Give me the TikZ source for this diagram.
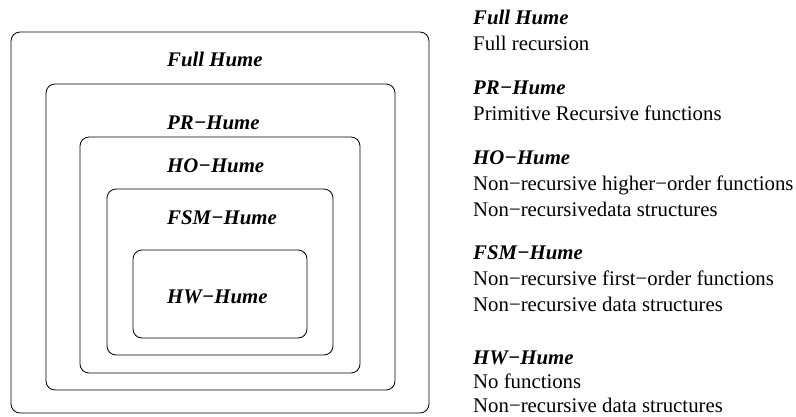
\documentclass[tikz,border=0pt]{standalone}
\usepackage{fontspec}
\setmainfont{Liberation Serif}
\begin{document}
\begin{tikzpicture}[x=1pt,y=-1pt,
  level/.style={draw, line width=0.8pt, rounded corners=9pt},
  tag/.style={anchor=base west, inner sep=0pt, font=\fontsize{20.8}{24}\selectfont\bfseries\itshape},
  desc/.style={anchor=base west, inner sep=0pt, font=\fontsize{20.8}{24}\selectfont}]
\useasboundingbox (0,0) rectangle (796,416);

% nested language levels
\draw[level] (11,32) rectangle (429,413);
\draw[level] (46,84) rectangle (395,390);
\draw[level] (80,137) rectangle (360,373);
\draw[level] (107,189) rectangle (333,355);
\draw[level] (133,250) rectangle (307,338);

\node[tag] (full) at (167,66) {Full Hume};
\node[tag] (pr) at (167,129) {PR−Hume};
\node[tag] (ho) at (167,172) {HO−Hume};
\node[tag] (fsm) at (167,224) {FSM−Hume};
\node[tag] (hw) at (167,303) {HW−Hume};

% legend
\node[tag] (lfull) at (473,24) {Full Hume};
\node[desc] (dfull) at (473,50) {Full recursion};
\node[tag] (lpr) at (473,94) {PR−Hume};
\node[desc] (dpr) at (473,120) {Primitive Recursive functions};
\node[tag] (lho) at (473,164) {HO−Hume};
\node[desc] (dho1) at (473,190) {Non−recursive higher−order functions};
\node[desc] (dho2) at (473,216) {Non−recursivedata structures};
\node[tag] (lfsm) at (473,259) {FSM−Hume};
\node[desc] (dfsm1) at (473,285) {Non−recursive first−order functions};
\node[desc] (dfsm2) at (473,311) {Non−recursive data structures};
\node[tag] (lhw) at (473,364) {HW−Hume};
\node[desc] (dhw1) at (473,388) {No functions};
\node[desc] (dhw2) at (473,412) {Non−recursive data structures};
\end{tikzpicture}
\end{document}
